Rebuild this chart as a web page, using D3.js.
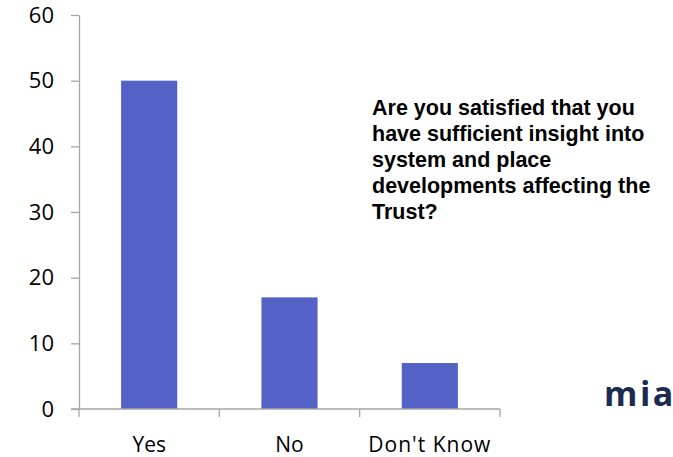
<!DOCTYPE html>
<html><head><meta charset="utf-8">
<script src="https://cdn.jsdelivr.net/npm/d3@7"></script>
<style>html,body{margin:0;padding:0;background:#fff;}svg{display:block;}</style>
</head><body>
<script>
const categories = ["Yes", "No", "Don't Know"];
const values = [50, 17, 7];
const yTicks = [0, 10, 20, 30, 40, 50, 60];
const titleLines = ["Are you satisfied that you", "have sufficient insight into", "system and place", "developments affecting the", "Trust?"];
const logoText = "mia";

const W = 673, H = 457;
const svg = d3.select("body").append("svg").attr("width", W).attr("height", H);

const x = d3.scaleBand().domain(categories).range([79, 500]).padding(0);
const y = d3.scaleLinear().domain([0, 60]).range([409, 15]);
const axisColor = "#a6a6a6";
const barW = x.bandwidth() * 0.4;

svg.selectAll("rect.bar").data(values).enter().append("rect")
  .attr("class", "bar")
  .attr("x", (d, i) => x(categories[i]) + x.bandwidth() / 2 - barW / 2)
  .attr("y", d => y(d))
  .attr("width", barW)
  .attr("height", d => y(0) - y(d))
  .attr("fill", "#5462c8");

// Y axis
const yAxis = svg.append("g").attr("transform", "translate(79,0)")
  .call(d3.axisLeft(y).tickValues(yTicks).tickSize(8).tickPadding(17).tickSizeOuter(0));
yAxis.select(".domain").attr("stroke", axisColor).attr("stroke-width", 1.3);
yAxis.selectAll(".tick line").attr("stroke", axisColor).attr("stroke-width", 1.3);
yAxis.selectAll(".tick text").attr("font-family", "Open Sans").attr("font-size", 22).attr("fill", "#000");

// X axis
const xg = svg.append("g");
xg.append("line").attr("x1", 71).attr("x2", x.range()[1]).attr("y1", y(0)).attr("y2", y(0))
  .attr("stroke", axisColor).attr("stroke-width", 1.3);
const bounds = categories.map(c => x(c)).concat([x.range()[1]]);
xg.selectAll("line.tk").data(bounds).enter().append("line").attr("class", "tk")
  .attr("x1", d => d).attr("x2", d => d).attr("y1", y(0)).attr("y2", y(0) + 8)
  .attr("stroke", axisColor).attr("stroke-width", 1.3);
xg.selectAll("text").data(categories).enter().append("text")
  .attr("x", d => x(d) + x.bandwidth() / 2).attr("y", 452)
  .attr("text-anchor", "middle").attr("font-family", "Open Sans").attr("font-size", 21)
  .attr("letter-spacing", d => d.length > 5 ? 1 : 0)
  .attr("fill", "#000").text(d => d);

// Title
const t = svg.append("text").attr("font-family", "Liberation Sans, Arial").attr("font-weight", "bold")
  .attr("font-size", 21.5).attr("fill", "#000");
titleLines.forEach((l, i) => t.append("tspan").attr("x", 372).attr("y", 115 + i * 26).text(l));

// Logo
svg.append("text").attr("x", 604).attr("y", 406).attr("font-family", "Open Sans").attr("font-weight", "bold")
  .attr("font-size", 34).attr("letter-spacing", 2.5).attr("fill", "#1b2a4e").text(logoText);
</script>
</body></html>
